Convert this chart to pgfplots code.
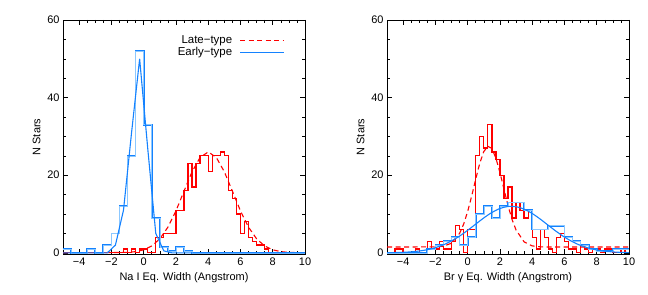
\documentclass[border=0pt]{standalone}
\usepackage{fontspec}
\setmainfont{Liberation Sans}
\usepackage{pgfplots}
\pgfplotsset{compat=1.18}
\definecolor{idlred}{RGB}{255,0,0}
\definecolor{idlblue}{RGB}{20,130,255}
\definecolor{idlblueL}{RGB}{140,200,255}
\newcommand{\lblfont}{\fontsize{11}{13}\selectfont}
\newcommand{\legfont}{\fontsize{11.5}{13}\selectfont}
\tikzset{
  rdash/.style={draw=idlred, line width=1.1bp, dash pattern=on 5bp off 3.5bp},
  bline/.style={draw=idlblue, line width=1.1bp},
}
\pgfplotsset{
  idl/.style={
    scale only axis, width=242bp, height=234bp, anchor=south west,
    xmin=-5, xmax=10, ymin=-0.3, ymax=60,
    xtick={-4,-2,0,2,4,6,8,10}, xticklabels={−4,−2,0,2,4,6,8,10},
    ytick={0,20,40,60}, yticklabels={0,20,40,60},
    minor x tick num=3, minor y tick num=3,
    tick align=inside, major tick length=5bp, minor tick length=2.6bp,
    tick style={black, line width=0.6bp},
    axis line style={black, line width=0.8bp},
    ticklabel style={font=\lblfont},
    label style={font=\lblfont},
    ylabel={N Stars},
  },
  hist/.style={const plot, line width=1.3bp},
  bhist/.style={const plot, idlblue, line width=1.7bp},
  bhistL/.style={const plot, idlblueL, line width=0.6bp},
}

\begin{document}
\begin{tikzpicture}[x=1bp,y=1bp]
\path[use as bounding box] (0,0) rectangle (648,294);

% Na I panel
\begin{axis}[idl, at={(63bp,40bp)},
  xlabel={Na I Eq. Width (Angstrom)},
]
% late-type histogram
\addplot[hist, idlred] coordinates {
  (-5,0) (-1.25,1) (-1.0,0) (-0.75,1) (-0.5,0) (-0.25,1) (0.25,0) (0.75,4)
  (1.0,4) (1.25,5) (1.5,5) (1.75,5) (2.0,11) (2.5,16) (2.75,23) (3.0,17)
  (3.25,23) (3.5,25) (4.0,21) (4.25,25) (4.5,25) (4.75,26) (5.0,25)
  (5.25,16) (5.5,14) (5.75,10) (6.0,5) (6.25,8) (6.5,4) (6.75,3) (7.0,2)
  (7.25,2) (7.5,1) (7.75,0) (10,0)
};
% late-type fit
\addplot[rdash] coordinates {
  (-5,0) (-1,0.11) (-0.5,0.31) (0,0.78) (0.5,1.77) (1,3.61) (1.5,6.60) (2,10.8)
  (2.5,15.9) (3,20.9) (3.5,24.6) (4,26) (4.5,24.6) (5,20.9) (5.5,15.9) (6,10.8)
  (6.5,6.60) (7,3.61) (7.5,1.77) (8,0.78) (8.5,0.31) (9,0.11) (10,0.01)
};
% early-type histogram
\addplot[bhist] coordinates {
  (-5,1) (-4.5,0) (-3.5,1) (-3,0) (-2.5,2) (-2,5) (-1.5,12) (-1,25) (-0.5,52)
  (0,33) (0.5,9) (1,1.5) (1.5,0.5) (2,1.5) (2.5,0.5) (3,0) (10,0)
};
\addplot[bhistL] coordinates {
  (-5,1) (-4.5,0) (-3.5,1) (-3,0) (-2.5,2) (-2,5) (-1.5,12) (-1,25) (-0.5,52)
  (0,33) (0.5,9) (1,1.5) (1.5,0.5) (2,1.5) (2.5,0.5) (3,0) (10,0)
};
% early-type fit
\addplot[bline] coordinates {
  (-5,0) (-2.25,0) (-1.75,2) (-1.25,11) (-0.75,31) (-0.25,50) (0.25,27)
  (0.75,5) (1.25,0.5) (1.75,0) (10,0)
};
% legend (text left, line sample right)
\node[anchor=east, font=\legfont, inner sep=0pt] at (rel axis cs:0.70,0.913) {Late−type};
\draw[rdash] (rel axis cs:0.732,0.913) -- (rel axis cs:0.915,0.913);
\node[anchor=east, font=\legfont, inner sep=0pt] at (rel axis cs:0.70,0.862) {Early−type};
\draw[bline] (rel axis cs:0.732,0.862) -- (rel axis cs:0.915,0.862);
\end{axis}

% Br gamma panel
\begin{axis}[idl, at={(387bp,40bp)},
  xlabel={Br γ Eq. Width (Angstrom)},
]
\addplot[hist, idlred] coordinates {
  (-5,0) (-4.5,1) (-4,0) (-3.25,1) (-3,0) (-2.5,3) (-2.25,1) (-2,1) (-1.75,3)
  (-1.5,1) (-1.25,1) (-1,3) (-0.75,7) (-0.5,6) (-0.25,0) (0,6) (0.25,6)
  (0.5,25) (0.75,30) (1.0,27) (1.25,33) (1.5,26) (1.75,24) (2.0,20) (2.25,14)
  (2.5,17) (2.75,9) (3.0,13) (3.25,11) (3.5,9) (3.75,11) (4.0,4) (4.25,1)
  (4.5,6) (4.75,4) (5.0,1) (5.25,0) (5.5,4) (5.75,5) (6.0,3) (6.25,1)
  (6.5,1) (6.75,0) (7.0,2) (7.25,1) (7.5,0) (7.75,1) (8.0,1) (8.25,0)
  (8.5,1) (8.75,1) (9.0,0) (9.5,1) (9.75,0) (10,0)
};
\addplot[rdash] coordinates {
  (-5,1.5) (-2,1.53) (-1.5,1.71) (-1,2.49) (-0.5,5.02) (-0.25,7.40) (0,10.66)
  (0.25,14.66) (0.5,19.02) (0.75,23.1) (1,26.1) (1.25,27.46) (1.5,26.9)
  (1.75,24.4) (2,20.7) (2.25,16.4) (2.5,12.2) (2.75,8.6) (3,5.87) (3.5,2.81)
  (4,1.79) (4.5,1.55) (5,1.5) (10,1.5)
};
\addplot[bhist] coordinates {
  (-5,0) (-2.5,1) (-2,2) (-1.5,3) (-1,4) (-0.5,2) (0,4) (0.5,10) (1,12) (1.5,9)
  (2,12) (2.5,13) (3,13) (3.5,11) (4,6) (4.5,6) (5,7) (5.5,7) (6,4) (6.5,3)
  (7,2) (7.5,1) (8,0.5) (8.5,0.5) (9,1) (9.5,1) (10,1)
};
\addplot[bhistL] coordinates {
  (-5,0) (-2.5,1) (-2,2) (-1.5,3) (-1,4) (-0.5,2) (0,4) (0.5,10) (1,12) (1.5,9)
  (2,12) (2.5,13) (3,13) (3.5,11) (4,6) (4.5,6) (5,7) (5.5,7) (6,4) (6.5,3)
  (7,2) (7.5,1) (8,0.5) (8.5,0.5) (9,1) (9.5,1) (10,1)
};
\addplot[bline, smooth] coordinates {
  (-5,0.03) (-4.5,0.07) (-4,0.14) (-3.5,0.26) (-3,0.47) (-2.5,0.81) (-2,1.33)
  (-1.5,2.07) (-1,3.07) (-0.5,4.33) (0,5.81) (0.5,7.41) (1,9.00) (1.5,10.40)
  (2,11.43) (2.5,11.95) (3,11.89) (3.5,11.26) (4,10.14) (4.5,8.69) (5,7.08)
  (5.5,5.50) (6,4.06) (6.5,2.85) (7,1.90) (7.5,1.21) (8,0.73) (8.5,0.42)
  (9,0.23) (9.5,0.12) (10,0.06)
};
\end{axis}
\end{tikzpicture}
\end{document}
